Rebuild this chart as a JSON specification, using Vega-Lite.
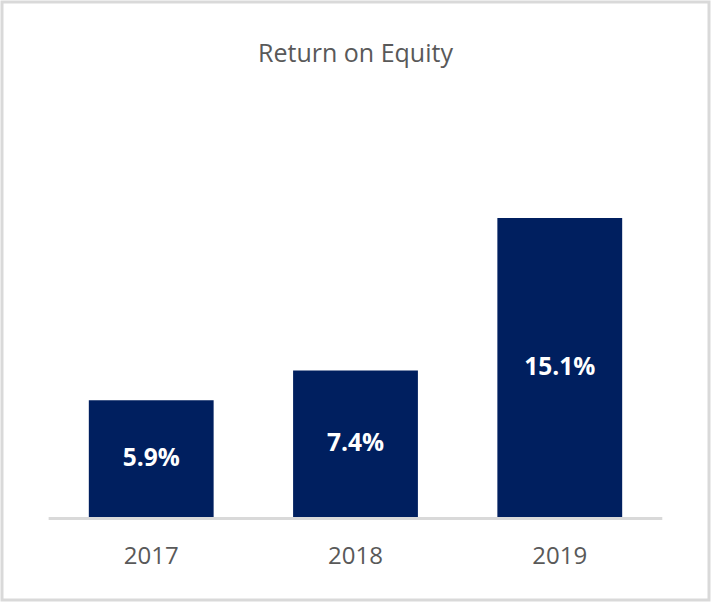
{
  "$schema": "https://vega.github.io/schema/vega-lite/v6.json",
  "width": 713,
  "height": 604,
  "autosize": {"type": "fit", "contains": "padding"},
  "padding": {"left": 2, "top": 2, "right": 4, "bottom": 4},
  "background": "white",
  "config": {"view": {"stroke": "#d9d9d9", "strokeWidth": 3}, "font": "Open Sans"},
  "title": {"text": "Return on Equity", "fontSize": 25, "font": "Open Sans", "fontWeight": "normal", "color": "#595959", "anchor": "middle", "frame": "group", "offset": -85, "baseline": "alphabetic"},
  "data": {"values": [
    {"year": "2017", "roe": 0.059},
    {"year": "2018", "roe": 0.074},
    {"year": "2019", "roe": 0.151}
  ]},
  "encoding": {
    "x": {"field": "year", "type": "nominal", "sort": null,
      "scale": {"paddingInner": 0.389, "paddingOuter": 0.425},
      "axis": {"title": null, "orient": "bottom", "offset": -83, "domain": false, "ticks": false, "labelFontSize": 24, "labelColor": "#595959", "labelPadding": 39, "labelBaseline": "middle", "labelAngle": 0, "labelFont": "Open Sans"}}
  },
  "layer": [
    {"mark": {"type": "bar", "color": "#001F5F"},
     "encoding": {
       "y": {"field": "roe", "type": "quantitative", "scale": {"domain": [-0.0419, 0.2601], "nice": false, "zero": false}, "axis": null},
       "y2": {"datum": 0}
     }},
    {"mark": {"type": "rule", "color": "#d9d9d9", "strokeWidth": 3, "yOffset": 1.5},
     "encoding": {
       "x": {"datum": "2017", "bandPosition": -0.32},
       "x2": {"datum": "2019", "bandPosition": 1.32},
       "y": {"datum": 0, "type": "quantitative", "axis": null}
     }},
    {"mark": {"type": "text", "color": "white", "fontSize": 24.5, "fontWeight": "bold", "font": "Open Sans", "baseline": "middle"},
     "encoding": {
       "y": {"field": "roe", "type": "quantitative", "stack": "zero", "bandPosition": 0.5, "axis": null},
       "text": {"field": "roe", "type": "quantitative", "format": ".1%"}
     }}
  ]
}
